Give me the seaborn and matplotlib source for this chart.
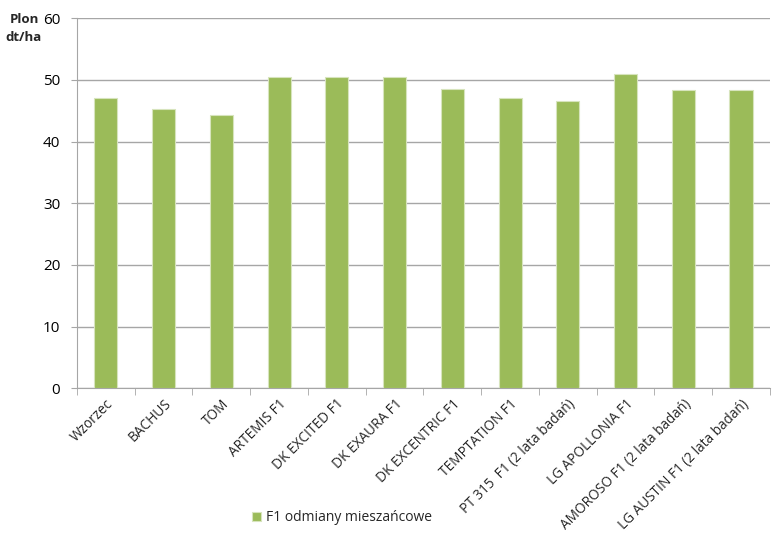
import numpy as np
import pandas as pd
import matplotlib
matplotlib.use('Agg')
import matplotlib.pyplot as plt
import seaborn as sns

# data
odmiany = ['Wzorzec', 'BACHUS', 'TOM', 'ARTEMIS F1', 'DK EXCITED F1', 'DK EXAURA F1',
           'DK EXCENTRIC F1', 'TEMPTATION F1', 'PT 315  F1 (2 lata badań)',
           'LG APOLLONIA F1', 'AMOROSO F1 (2 lata badań)', 'LG AUSTIN F1 (2 lata badań)']
plon = [47.1, 45.2, 44.3, 50.4, 50.4, 50.4, 48.5, 47.1, 46.6, 50.9, 48.4, 48.4]
seria = 'F1 odmiany mieszańcowe'

df = pd.DataFrame({'odmiana': odmiany, 'plon': plon, 'seria': seria})

sns.set_style('white')
plt.rcParams['font.family'] = ['Open Sans', 'DejaVu Sans']

fig = plt.figure(figsize=(7.73, 5.34), dpi=100)
ax = fig.add_axes([0.0996, 0.273, 0.8964, 0.693])

sns.barplot(data=df, x='odmiana', y='plon', hue='seria', palette=['#9BBB59'],
            saturation=1, width=0.4, edgecolor='#D7E4BD', linewidth=0.8, ax=ax, zorder=3)

ax.set_ylim(0, 60)
ax.set_yticks(range(0, 61, 10))
ax.set_xlim(-0.5, len(odmiany) - 0.5)
ax.yaxis.grid(True, color='#A6A6A6', linewidth=1.0, zorder=0)
ax.set_axisbelow(True)
for s in ['top', 'right']:
    ax.spines[s].set_visible(False)
ax.spines['left'].set_color('#A6A6A6')
ax.spines['bottom'].set_color('#A6A6A6')

ax.set_xlabel('')
ax.set_ylabel('')
ax.tick_params(axis='y', labelsize=11, length=4, color='#A6A6A6', pad=8,
               left=True, labelcolor='black')

# category separator ticks at the bottom
ax.set_xticks(np.arange(len(odmiany)))
ax.set_xticklabels(odmiany, rotation=45, ha='right', rotation_mode='anchor', fontsize=9.8)
ax.set_xticks(np.arange(-0.5, len(odmiany), 1.0), minor=True)
ax.tick_params(axis='x', which='major', length=0, pad=6)
ax.tick_params(axis='x', which='minor', length=5, color='#A6A6A6', bottom=True)

fig.text(0.031, 0.975, 'Plon\ndt/ha', ha='center', va='top', fontsize=9.5,
         fontweight='bold', linespacing=1.5)

ax.legend(frameon=False, fontsize=10, handlelength=0.7, handleheight=0.7,
          handletextpad=0.3, loc='center')
leg = ax.get_legend()
leg.set_bbox_to_anchor((0.442, 0.03), transform=fig.transFigure)

fig.savefig('out.png', dpi=100)
